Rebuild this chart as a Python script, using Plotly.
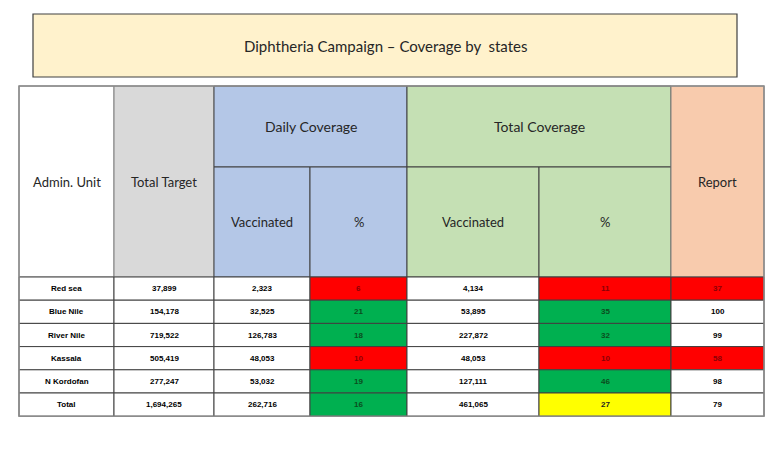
import plotly.graph_objects as go

# ---------------- data ----------------
title = "Diphtheria Campaign – Coverage by  states"
units = ["Red sea", "Blue Nile", "River Nile", "Kassala", "N Kordofan", "Total"]
total_target = ["37,899", "154,178", "719,522", "505,419", "277,247", "1,694,265"]
daily_vaccinated = ["2,323", "32,525", "126,783", "48,053", "53,032", "262,716"]
daily_pct = [6, 21, 18, 10, 19, 16]
total_vaccinated = ["4,134", "53,895", "227,872", "48,053", "127,111", "461,065"]
total_pct = [11, 35, 32, 10, 46, 27]
report = [37, 100, 99, 58, 98, 79]

# ---------------- styles ----------------
RED, GREEN, YELLOW, WHITE = "#FF0000", "#00B050", "#FFFF00", "#FFFFFF"
daily_pct_fill = [RED, GREEN, GREEN, RED, GREEN, GREEN]
total_pct_fill = [RED, GREEN, GREEN, RED, GREEN, YELLOW]
report_fill = [RED, WHITE, WHITE, RED, WHITE, WHITE]
TXT_ON = {RED: "#8B0006", GREEN: "#0B4D1E", YELLOW: "#222222", WHITE: "#000000"}

# layout geometry (pixel-like axis units)
col_edges = [19, 114, 214, 310, 407, 539, 671, 764]
head_top, head_mid, head_bot = 86, 167, 277
row_h = 23.2
title_box = (33, 14, 737, 77)
PAGE_OFFSET = 8  # browser body margin

HFONT = "Lato, Open Sans, sans-serif"
DFONT = "Liberation Sans, Arial, sans-serif"

fig = go.Figure()
shapes = []
annotations = []


def rect(x0, y0, x1, y1, fill, line="#404040", w=1):
    shapes.append(dict(type="rect", xref="x", yref="y", x0=x0, y0=y0, x1=x1, y1=y1,
                       fillcolor=fill, line=dict(color=line, width=w), layer="below"))


def text(x, y, s, size, color="#262626", family=HFONT, bold=False):
    if bold:
        s = "<b>" + s + "</b>"
    annotations.append(dict(x=x, y=y, xref="x", yref="y", text=s, showarrow=False,
                            font=dict(size=size, color=color, family=family),
                            xanchor="center", yanchor="middle"))


# title box
rect(*title_box, fill="#FFF2CC", line="#404040", w=1.2)
text((title_box[0] + title_box[2]) / 2, (title_box[1] + title_box[3]) / 2, title, 15)

c = col_edges
# header cells
rect(c[0], head_top, c[1], head_bot, "#FFFFFF", line="#808080")
text((c[0] + c[1]) / 2, (head_top + head_bot) / 2, "Admin. Unit", 13)
rect(c[1], head_top, c[2], head_bot, "#D9D9D9", line="#808080")
text((c[1] + c[2]) / 2, (head_top + head_bot) / 2, "Total Target", 13)
rect(c[2], head_top, c[4], head_mid, "#B4C7E7", line="#404040")
text((c[2] + c[4]) / 2, (head_top + head_mid) / 2, "Daily Coverage", 14)
rect(c[4], head_top, c[6], head_mid, "#C5E0B4", line="#404040")
text((c[4] + c[6]) / 2, (head_top + head_mid) / 2, "Total Coverage", 14)
sub = [("Vaccinated", "#B4C7E7"), ("%", "#B4C7E7"), ("Vaccinated", "#C5E0B4"), ("%", "#C5E0B4")]
for i, (lab, col) in enumerate(sub):
    x0, x1 = c[2 + i], c[3 + i]
    rect(x0, head_mid, x1, head_bot, col, line="#404040")
    text((x0 + x1) / 2, (head_mid + head_bot) / 2, lab, 13)
rect(c[6], head_top, c[7], head_bot, "#F8CBAD", line="#808080")
text((c[6] + c[7]) / 2, (head_top + head_bot) / 2, "Report", 13)

# data rows
for r in range(len(units)):
    y0 = head_bot + r * row_h
    y1 = y0 + row_h
    ym = (y0 + y1) / 2
    values = [units[r], total_target[r], daily_vaccinated[r], str(daily_pct[r]),
              total_vaccinated[r], str(total_pct[r]), str(report[r])]
    fills = [WHITE, WHITE, WHITE, daily_pct_fill[r], WHITE, total_pct_fill[r], report_fill[r]]
    for k in range(7):
        rect(c[k], y0, c[k + 1], y1, fills[k], line="#404040", w=1)
        text((c[k] + c[k + 1]) / 2, ym, values[k], 8, color=TXT_ON[fills[k]],
             family=DFONT, bold=True)

# outer table border
table_bottom = head_bot + len(units) * row_h
shapes.append(dict(type="rect", xref="x", yref="y", x0=c[0], y0=head_top, x1=c[-1],
                   y1=table_bottom, line=dict(color="#8C8C8C", width=1.5),
                   fillcolor="rgba(0,0,0,0)", layer="above"))

fig.update_layout(
    width=780, height=450,
    margin=dict(l=0, r=0, t=0, b=0),
    paper_bgcolor="white", plot_bgcolor="white",
    xaxis=dict(range=[PAGE_OFFSET, 780 + PAGE_OFFSET], visible=False, fixedrange=True),
    yaxis=dict(range=[450 + PAGE_OFFSET, PAGE_OFFSET], visible=False, fixedrange=True),
    shapes=shapes, annotations=annotations, showlegend=False,
)
fig.write_html("out.html")
